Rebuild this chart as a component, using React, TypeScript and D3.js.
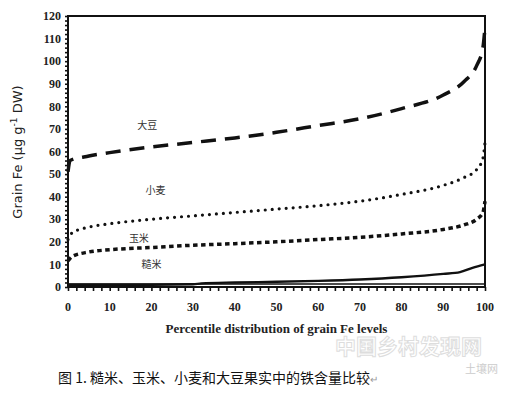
import React, { useEffect, useRef } from "react";
import * as d3 from "d3";

// percentile (x) and grain Fe (y)
const soyPct = [0, 0.5, 5, 10, 20, 30, 40, 50, 60, 70, 80, 90, 95, 98, 99.5, 100];
const soyFe = [51, 56, 58, 59.5, 62, 64, 66, 68.5, 71.5, 74.5, 79, 85, 91, 98, 106, 115];

const wheatPct = [0, 1, 5, 10, 20, 30, 40, 50, 60, 70, 80, 90, 95, 98, 99.5, 100];
const wheatFe = [21, 24, 26.5, 28, 30, 31.5, 33, 34.5, 36, 38, 41, 45, 48.5, 52, 57, 64];

const maizePct = [0, 1, 5, 10, 20, 30, 40, 50, 60, 70, 80, 90, 95, 98, 99.5, 100];
const maizeFe = [11.5, 13.5, 15.5, 16.5, 17.5, 18.5, 19.2, 20, 21, 22, 23.5, 25.5, 27.5, 30, 33, 38];

const ricePct = [0, 10, 20, 30, 32, 40, 50, 60, 70, 80, 90, 94, 97, 100];
const riceFe = [1, 1, 1, 1.2, 1.6, 2, 2.3, 2.7, 3.3, 4.3, 5.8, 6.6, 8.5, 10];

const yTicks = [0, 10, 20, 30, 40, 50, 60, 70, 80, 90, 100, 110, 120];
const xTicks = [0, 10, 20, 30, 40, 50, 60, 70, 80, 90, 100];

const cropNames = ["大豆", "小麦", "玉米", "糙米"];
const cropLabelAt = [
  [19, 70],
  [21, 41],
  [17, 20],
  [20, 8.5],
];

const caption = "图 1. 糙米、玉米、小麦和大豆果实中的铁含量比较";

export default function App() {
  const ref = useRef<SVGSVGElement>(null);

  useEffect(() => {
    const svg = d3.select(ref.current);
    svg.selectAll("*").remove();

    const x = d3.scaleLinear().domain([0, 100]).range([68, 485]);
    const y = d3.scaleLinear().domain([0, 120]).range([287, 16]);

    const serif = "'Liberation Serif', 'DejaVu Serif', serif";
    const cjk = "'Noto Sans CJK SC', sans-serif";

    svg.append("rect").attr("width", 505).attr("height", 393).attr("fill", "#fff");

    // frame
    svg
      .append("rect")
      .attr("x", x(0))
      .attr("y", y(120))
      .attr("width", x(100) - x(0))
      .attr("height", y(0) - y(120))
      .attr("fill", "none")
      .attr("stroke", "#111")
      .attr("stroke-width", 2);
    svg
      .append("line")
      .attr("x1", x(0))
      .attr("x2", x(100))
      .attr("y1", y(0) - 3)
      .attr("y2", y(0) - 3)
      .attr("stroke", "#111")
      .attr("stroke-width", 1.5);

    // y axis
    const yAxis = svg.append("g").attr("transform", `translate(${x(0)},0)`);
    yAxis
      .call(d3.axisLeft(y).tickValues(d3.range(0, 121, 2)).tickSize(3).tickFormat(() => ""))
      .call((g) => g.select(".domain").remove())
      .selectAll("line")
      .attr("stroke", "#111")
      .attr("stroke-width", 1.6);
    svg
      .append("g")
      .selectAll("text")
      .data(yTicks)
      .join("text")
      .attr("x", x(0) - 7)
      .attr("y", (d) => y(d))
      .attr("dy", "0.35em")
      .attr("text-anchor", "end")
      .attr("font-family", serif)
      .attr("font-weight", "bold")
      .attr("font-size", 12)
      .attr("fill", "#222")
      .text((d) => d);

    // x axis
    const xAxis = svg.append("g").attr("transform", `translate(0,${y(0)})`);
    xAxis
      .call(d3.axisBottom(x).tickValues(d3.range(0, 101, 2)).tickSize(4).tickFormat(() => ""))
      .call((g) => g.select(".domain").remove())
      .selectAll("line")
      .attr("stroke", "#111")
      .attr("stroke-width", 1.6);
    svg
      .append("g")
      .selectAll("text")
      .data(xTicks)
      .join("text")
      .attr("x", (d) => x(d))
      .attr("y", y(0) + 24)
      .attr("text-anchor", "middle")
      .attr("font-family", serif)
      .attr("font-weight", "bold")
      .attr("font-size", 12)
      .attr("fill", "#222")
      .text((d) => d);

    // axis titles
    svg
      .append("text")
      .attr("transform", `translate(22,152) rotate(-90)`)
      .attr("text-anchor", "middle")
      .attr("font-family", "'DejaVu Sans', sans-serif")
      .attr("font-size", 13)
      .attr("fill", "#222")
      .call((t) => {
        t.append("tspan").text("Grain Fe (μg g");
        t.append("tspan").attr("dy", -5).attr("font-size", 9).text("-1");
        t.append("tspan").attr("dy", 5).text(" DW)");
      });
    svg
      .append("text")
      .attr("x", x(50))
      .attr("y", 333)
      .attr("text-anchor", "middle")
      .attr("font-family", serif)
      .attr("font-weight", "bold")
      .attr("font-size", 13)
      .attr("fill", "#222")
      .text("Percentile distribution of grain Fe levels");

    const line = d3
      .line<[number, number]>()
      .x((d) => x(d[0]))
      .y((d) => y(d[1]))
      .curve(d3.curveMonotoneX);

    const series = [
      { p: soyPct, v: soyFe, dash: "15,9", w: 3.5, cap: "butt" },
      { p: wheatPct, v: wheatFe, dash: "0,7", w: 3.2, cap: "round" },
      { p: maizePct, v: maizeFe, dash: "4.5,3.5", w: 3.5, cap: "butt" },
      { p: ricePct, v: riceFe, dash: null, w: 2.4, cap: "butt" },
    ];
    series.forEach((s) => {
      svg
        .append("path")
        .datum(s.p.map((p, i) => [p, s.v[i]] as [number, number]))
        .attr("d", line)
        .attr("fill", "none")
        .attr("stroke", "#111")
        .attr("stroke-width", s.w)
        .attr("stroke-linecap", s.cap)
        .attr("stroke-dasharray", s.dash);
    });

    svg
      .append("g")
      .selectAll("text")
      .data(cropNames)
      .join("text")
      .attr("x", (d, i) => x(cropLabelAt[i][0]))
      .attr("y", (d, i) => y(cropLabelAt[i][1]))
      .attr("text-anchor", "middle")
      .attr("font-family", cjk)
      .attr("font-size", 10)
      .attr("fill", "#333")
      .text((d) => d);

    // faint watermark
    svg
      .append("text")
      .attr("x", 335)
      .attr("y", 354)
      .attr("font-family", cjk)
      .attr("font-size", 21)
      .attr("font-weight", "bold")
      .attr("fill", "none")
      .attr("stroke", "#ddd")
      .attr("stroke-width", 1)
      .text("中国乡村发现网");
    svg
      .append("text")
      .attr("x", 465)
      .attr("y", 373)
      .attr("font-family", cjk)
      .attr("font-size", 11)
      .attr("fill", "#ccc")
      .text("土壤网");

    // caption
    svg
      .append("text")
      .attr("x", 58)
      .attr("y", 383)
      .attr("font-family", cjk)
      .attr("font-size", 14)
      .attr("fill", "#111")
      .call((t) => {
        t.append("tspan").text(caption);
        t.append("tspan").attr("fill", "#999").attr("font-size", 10).text("↵");
      });
  }, []);

  return (
    <div style={{ position: "absolute", left: 0, top: 0 }}>
      <svg ref={ref} width={505} height={393} />
    </div>
  );
}
